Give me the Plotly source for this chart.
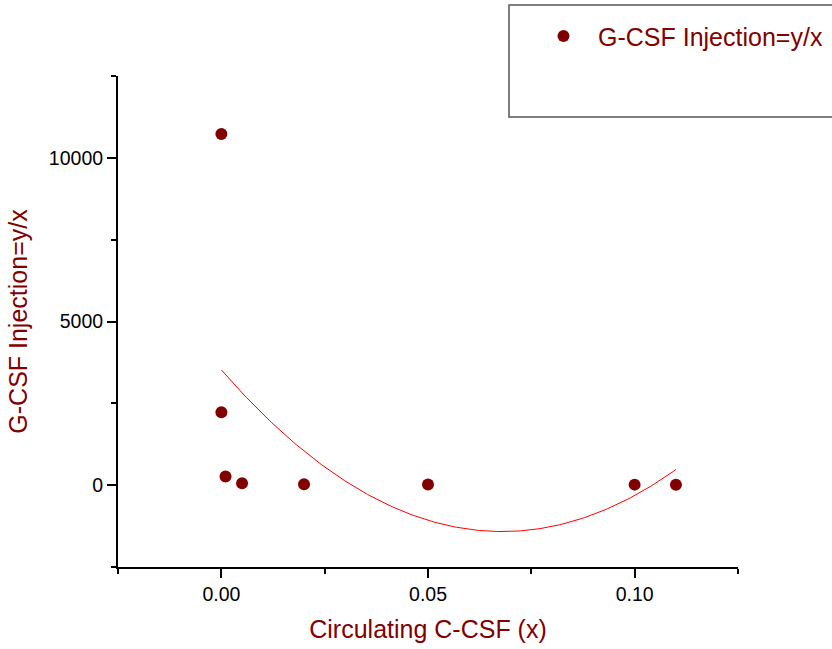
import numpy as np
import plotly.graph_objects as go

# Data
circulating_x = [0.0, 0.0, 0.001, 0.005, 0.02, 0.05, 0.10, 0.11]
injection_y = [10730, 2230, 266, 60, 25, 20, 15, 12]
series_name = "G-CSF Injection=y/x"
x_title = "Circulating C-CSF (x)"
y_title = "G-CSF Injection=y/x"
x_tick_vals = [0.0, 0.05, 0.10]
y_tick_vals = [0, 5000, 10000]

DARK_RED = "#800000"
FONT = "Liberation Sans, Arial, sans-serif"

# Quadratic fit of the data (as in the reference)
coef = np.polyfit(circulating_x, injection_y, 2)
fit_x = np.linspace(min(circulating_x), max(circulating_x), 200)
fit_y = np.polyval(coef, fit_x)

fig = go.Figure()
fig.add_trace(go.Scatter(
    x=fit_x, y=fit_y, mode="lines",
    line=dict(color="#FF0000", width=1),
    showlegend=False, hoverinfo="skip",
))
fig.add_trace(go.Scatter(
    x=circulating_x, y=injection_y, mode="markers",
    marker=dict(color=DARK_RED, size=12),
    name=series_name,
))

axis_common = dict(
    showline=True, linecolor="black", linewidth=2,
    ticks="outside", ticklen=9, tickwidth=2, tickcolor="black",
    showgrid=False, zeroline=False,
    tickfont=dict(family=FONT, size=19.5, color="black"),
    mirror=False,
)

fig.update_layout(
    width=832, height=649,
    margin=dict(l=118, r=94, t=76, b=82, autoexpand=False),
    paper_bgcolor="white", plot_bgcolor="white",
    font=dict(family=FONT),
    xaxis=dict(
        range=[-0.02502, 0.12502],
        tickvals=x_tick_vals, tickformat=".2f",
        minor=dict(dtick=0.025, tick0=0, ticks="outside", ticklen=5,
                   tickwidth=2, tickcolor="black"),
        title=dict(text=x_title, font=dict(family=FONT, size=25, color=DARK_RED),
                   standoff=16),
        **axis_common,
    ),
    yaxis=dict(
        range=[-2502, 12502],
        tickvals=y_tick_vals, tickformat="d",
        minor=dict(dtick=2500, tick0=0, ticks="outside", ticklen=5,
                   tickwidth=2, tickcolor="black"),
        title=dict(text=y_title, font=dict(family=FONT, size=25, color=DARK_RED),
                   standoff=14),
        **axis_common,
    ),
    legend=dict(
        x=(529 - 118) / 620, y=1.128, xanchor="left", yanchor="top",
        bgcolor="rgba(0,0,0,0)", borderwidth=0, itemwidth=59,
        font=dict(family=FONT, size=25, color=DARK_RED),
    ),
    shapes=[dict(
        type="rect", xref="paper", yref="paper",
        x0=(509 - 118) / 620, x1=(834 - 118) / 620,
        y0=(567 - 117) / 491, y1=(567 - 5) / 491,
        line=dict(color="#555555", width=1.5), fillcolor="rgba(0,0,0,0)",
        layer="above",
    )],
)

fig.write_html("out.html")
